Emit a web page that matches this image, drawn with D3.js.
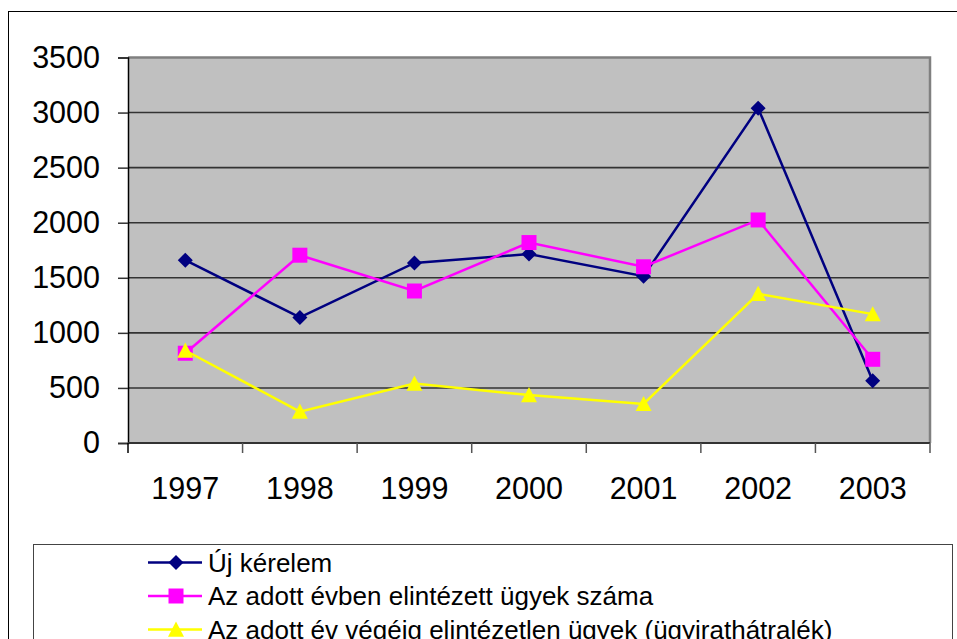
<!DOCTYPE html>
<html>
<head>
<meta charset="utf-8">
<script src="https://cdn.jsdelivr.net/npm/d3@7"></script>
<style>
  body { margin: 0; background: #fff; }
  svg { display: block; font-family: "Liberation Sans", Arial, sans-serif; }
</style>
</head>
<body>
<svg width="957" height="639"></svg>
<script>
// adatok
const years = ["1997", "1998", "1999", "2000", "2001", "2002", "2003"];
const ujKerelem = [1660, 1140, 1635, 1715, 1515, 3040, 565];
const elintezett = [815, 1705, 1380, 1820, 1600, 2025, 760];
const hatralek = [840, 285, 540, 435, 355, 1355, 1170];
const yTicks = [0, 500, 1000, 1500, 2000, 2500, 3000, 3500];
const seriesNames = [
  "Új kérelem",
  "Az adott évben elintézett ügyek száma",
  "Az adott év végéig elintézetlen ügyek (ügyirathátralék)"
];

// egyedi jelolok
const diamond = {
  draw(c, s) {
    const r = Math.sqrt(s) / 2;
    c.moveTo(0, -r); c.lineTo(r, 0); c.lineTo(0, r); c.lineTo(-r, 0); c.closePath();
  }
};
const triangle = {
  draw(c, s) {
    const r = Math.sqrt(s) / 2;
    c.moveTo(0, -r); c.lineTo(r, r * 0.9); c.lineTo(-r, r * 0.9); c.closePath();
  }
};

const series = [
  { name: seriesNames[0], values: ujKerelem, color: "#000080", symbol: diamond, size: 225 },
  { name: seriesNames[1], values: elintezett, color: "#FF00FF", symbol: d3.symbolSquare, size: 225 },
  { name: seriesNames[2], values: hatralek, color: "#FFFF00", symbol: triangle, size: 256 }
];

const svg = d3.select("svg");
const plotLeft = 128, plotRight = 930, plotTop = 57.5, plotBottom = 443;

// kulso keret
svg.append("rect")
  .attr("x", 8.5).attr("y", 11.5)
  .attr("width", 1000).attr("height", 700)
  .attr("fill", "#fff").attr("stroke", "#000").attr("stroke-width", 1);

const x = d3.scaleBand().domain(years).range([plotLeft, plotRight]);
const y = d3.scaleLinear().domain([0, 3500]).range([plotBottom, plotTop]);

// rajzterulet hattere
svg.append("rect")
  .attr("x", plotLeft).attr("y", plotTop)
  .attr("width", plotRight - plotLeft).attr("height", plotBottom - plotTop)
  .attr("fill", "#C0C0C0");

// vizszintes racsvonalak
svg.append("g")
  .selectAll("line")
  .data(yTicks.filter(d => d > 0 && d < 3500))
  .enter()
  .append("line")
  .attr("x1", plotLeft).attr("x2", plotRight)
  .attr("y1", d => y(d)).attr("y2", d => y(d))
  .attr("stroke", "#333").attr("stroke-width", 1.6);

// felso es jobb keret
svg.append("path")
  .attr("d", `M${plotLeft},${plotTop}H${plotRight}V${plotBottom}`)
  .attr("fill", "none").attr("stroke", "#808080").attr("stroke-width", 2.5);

// Y tengely
const axisY = d3.axisLeft(y).tickValues(yTicks).tickFormat(d3.format("d"))
  .tickSize(10).tickPadding(18);
const gy = svg.append("g")
  .attr("transform", `translate(${plotLeft}, 0)`)
  .call(axisY);
gy.select(".domain").attr("stroke", "#000").attr("stroke-width", 1.5);
gy.selectAll(".tick line").attr("stroke", "#333").attr("stroke-width", 1.5);
gy.selectAll("text").attr("font-size", 30.5).attr("fill", "#000")
  .attr("font-family", "Liberation Sans, Arial, sans-serif");

// X tengely (feliratok)
const axisX = d3.axisBottom(x).tickSize(0).tickPadding(34);
const gx = svg.append("g")
  .attr("transform", `translate(0, ${plotBottom})`)
  .call(axisX);
gx.select(".domain").remove();
gx.selectAll("text").attr("font-size", 30.5).attr("fill", "#000")
  .attr("font-family", "Liberation Sans, Arial, sans-serif");

// also tengelyvonal es kategoriahatarok
svg.append("line")
  .attr("x1", plotLeft).attr("x2", plotRight)
  .attr("y1", plotBottom).attr("y2", plotBottom)
  .attr("stroke", "#333").attr("stroke-width", 2);
const bounds = years.map(d => x(d)).concat([x(years[years.length - 1]) + x.bandwidth()]);
svg.append("g")
  .selectAll("line")
  .data(bounds)
  .enter()
  .append("line")
  .attr("x1", d => d).attr("x2", d => d)
  .attr("y1", plotBottom).attr("y2", plotBottom + 10)
  .attr("stroke", (d, i) => i === 0 ? "#000" : "#555")
  .attr("stroke-width", 1.5);

// vonalak es jelolok
const line = d3.line()
  .x((d, i) => x(years[i]) + x.bandwidth() / 2)
  .y(d => y(d));

series.forEach(s => {
  svg.append("path")
    .datum(s.values)
    .attr("d", line)
    .attr("fill", "none")
    .attr("stroke", s.color)
    .attr("stroke-width", 2.5);
  svg.append("g")
    .selectAll("path")
    .data(s.values)
    .enter()
    .append("path")
    .attr("d", d3.symbol().type(s.symbol).size(s.size))
    .attr("transform", (d, i) => `translate(${x(years[i]) + x.bandwidth() / 2}, ${y(d)})`)
    .attr("fill", s.color);
});

// jelmagyarazat
svg.append("rect")
  .attr("x", 33.5).attr("y", 544.5)
  .attr("width", 919).attr("height", 200)
  .attr("fill", "#fff").attr("stroke", "#444").attr("stroke-width", 1);

const legend = svg.append("g")
  .selectAll("g")
  .data(series)
  .enter()
  .append("g")
  .attr("transform", (d, i) => `translate(0, ${562.5 + i * 33.5})`);
legend.append("line")
  .attr("x1", 148).attr("x2", 202)
  .attr("stroke", d => d.color).attr("stroke-width", 2.5);
legend.append("path")
  .attr("d", d => d3.symbol().type(d.symbol).size(d.size)())
  .attr("transform", "translate(176, 0)")
  .attr("fill", d => d.color);
legend.append("text")
  .attr("x", 208)
  .attr("dy", "0.35em")
  .attr("font-size", 26)
  .text(d => d.name);
</script>
</body>
</html>
